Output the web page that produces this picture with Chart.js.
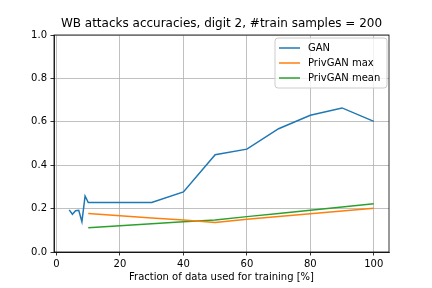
<!DOCTYPE html>
<html>
<head>
<meta charset="utf-8">
<script src="https://cdn.jsdelivr.net/npm/chart.js@4.4.1/dist/chart.umd.min.js"></script>
<style>
html,body{margin:0;padding:0;background:#fff;}
#wrap{width:432px;height:288px;}
</style>
</head>
<body>
<div id="wrap"><canvas id="c" width="432" height="288"></canvas></div>
<script>
const titleText = 'WB attacks accuracies, digit 2, #train samples = 200';
const xLabel = 'Fraction of data used for training [%]';
const seriesNames = ['GAN', 'PrivGAN max', 'PrivGAN mean'];
const colors = ['#1f77b4', '#ff7f0e', '#2ca02c'];

const ganX = [4, 5, 6, 7, 8, 9, 10, 20, 30, 40, 50, 60, 70, 80, 90, 100];
const ganY = [0.194, 0.174, 0.190, 0.192, 0.140, 0.258, 0.228, 0.228, 0.228, 0.277, 0.448, 0.474, 0.568, 0.630, 0.664, 0.602];

const privX = [10, 20, 30, 40, 50, 60, 70, 80, 90, 100];
const privMaxY = [0.177, 0.167, 0.157, 0.147, 0.136, 0.151, 0.164, 0.176, 0.189, 0.202];
const privMeanY = [0.112, 0.121, 0.130, 0.139, 0.147, 0.163, 0.177, 0.192, 0.207, 0.222];

const xTicks = [0, 20, 40, 60, 80, 100];
const yTicks = [0.0, 0.2, 0.4, 0.6, 0.8, 1.0];

Chart.defaults.font.family = "'DejaVu Sans', sans-serif";
Chart.defaults.color = '#000';

function pts(xs, ys) { return xs.map((x, i) => ({x: x, y: ys[i]})); }

function ds(i, xs, ys) {
  return {
    label: seriesNames[i],
    data: pts(xs, ys),
    borderColor: colors[i],
    backgroundColor: colors[i],
    borderWidth: 1.5,
    pointRadius: 0,
    tension: 0,
    fill: false
  };
}

const framePlugin = {
  id: 'frame',
  afterDatasetsDraw(chart) {
    const ctx = chart.ctx, a = chart.chartArea;
    ctx.save();
    ctx.strokeStyle = '#000';
    ctx.lineWidth = 0.8;
    ctx.strokeRect(a.left, a.top, a.right - a.left, a.bottom - a.top);
    ctx.restore();
  },
  afterDraw(chart) {
    const ctx = chart.ctx, a = chart.chartArea;
    ctx.save();
    // title centred over the plot area
    ctx.font = "12px 'DejaVu Sans'";
    ctx.fillStyle = '#000';
    ctx.textAlign = 'center';
    ctx.textBaseline = 'middle';
    ctx.fillText(titleText, (a.left + a.right) / 2, a.top - 11);

    // legend box inside plot, upper right
    const bw = 112, bh = 50;
    const bx = a.right - 2 - bw, by = a.top + 3;
    ctx.beginPath();
    const r = 3;
    ctx.moveTo(bx + r, by);
    ctx.lineTo(bx + bw - r, by);
    ctx.quadraticCurveTo(bx + bw, by, bx + bw, by + r);
    ctx.lineTo(bx + bw, by + bh - r);
    ctx.quadraticCurveTo(bx + bw, by + bh, bx + bw - r, by + bh);
    ctx.lineTo(bx + r, by + bh);
    ctx.quadraticCurveTo(bx, by + bh, bx, by + bh - r);
    ctx.lineTo(bx, by + r);
    ctx.quadraticCurveTo(bx, by, bx + r, by);
    ctx.closePath();
    ctx.fillStyle = 'rgba(255,255,255,0.8)';
    ctx.fill();
    ctx.strokeStyle = '#cccccc';
    ctx.lineWidth = 1;
    ctx.stroke();
    ctx.font = "10px 'DejaVu Sans'";
    ctx.textBaseline = 'middle';
    ctx.textAlign = 'left';
    chart.data.datasets.forEach((d, i) => {
      const y = by + 10 + i * 15;
      ctx.beginPath();
      ctx.strokeStyle = d.borderColor;
      ctx.lineWidth = 1.5;
      ctx.moveTo(bx + 4, y);
      ctx.lineTo(bx + 25, y);
      ctx.stroke();
      ctx.fillStyle = '#000';
      ctx.fillText(d.label, bx + 33, y);
    });
    ctx.restore();
  }
};

new Chart(document.getElementById('c'), {
  type: 'line',
  data: {
    datasets: [
      ds(0, ganX, ganY),
      ds(1, privX, privMaxY),
      ds(2, privX, privMeanY)
    ]
  },
  options: {
    responsive: false,
    animation: false,
    devicePixelRatio: 1,
    layout: { padding: { left: 0, right: 43, top: 35, bottom: 0 } },
    plugins: {
      legend: { display: false },
      tooltip: { enabled: false },
      title: { display: false }
    },
    scales: {
      x: {
        type: 'linear',
        min: -0.8,
        max: 104.8,
        afterFit(s) { s.height = 36; },
        afterBuildTicks(s) { s.ticks = xTicks.map(v => ({value: v})); },
        ticks: { includeBounds: false, stepSize: 20, font: { size: 10 }, color: '#000', padding: 3, maxRotation: 0,
                 callback: v => String(v) },
        grid: { color: '#b0b0b0', lineWidth: 0.8, tickColor: '#000', tickLength: 3.5, tickWidth: 0.8, drawOnChartArea: true },
        border: { display: true, color: '#000', width: 0.8 },
        title: { display: true, text: xLabel, color: '#000', font: { size: 10 }, padding: { top: 0, bottom: 5 } }
      },
      y: {
        type: 'linear',
        min: 0,
        max: 1,
        afterFit(s) { s.width = 54; },
        afterBuildTicks(s) { s.ticks = yTicks.map(v => ({value: v})); },
        ticks: { font: { size: 10 }, color: '#000', padding: 3.5, callback: v => Number(v).toFixed(1) },
        grid: { color: '#b0b0b0', lineWidth: 0.8, tickColor: '#000', tickLength: 3.5, tickWidth: 0.8 },
        border: { display: true, color: '#000', width: 0.8 }
      }
    }
  },
  plugins: [framePlugin]
});
</script>
</body>
</html>
